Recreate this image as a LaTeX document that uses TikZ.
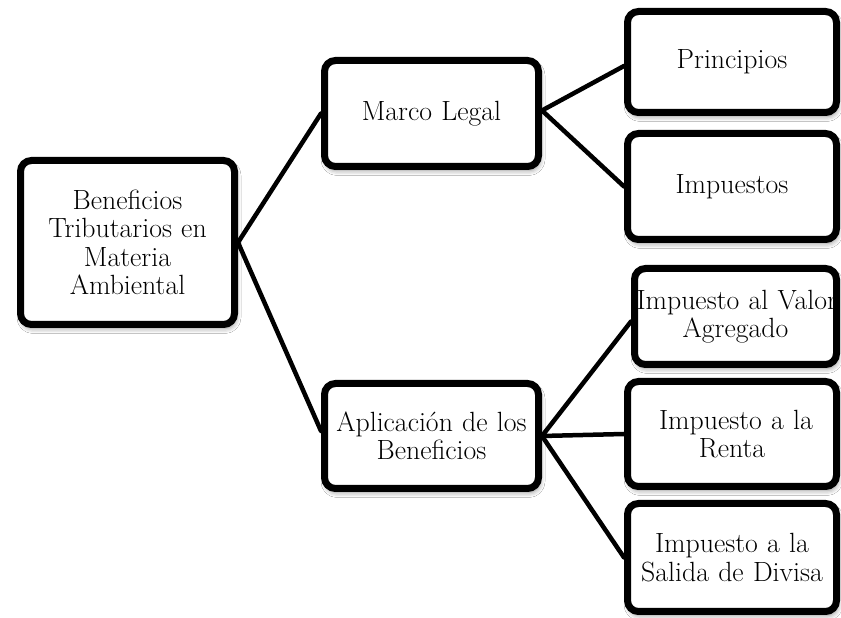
\documentclass[tikz,border=0pt]{standalone}
\usepackage{fontspec}
\usetikzlibrary{shadows.blur}
\newcommand{\boxfont}{\fontsize{27.8}{28.5}\selectfont\addfontfeatures{FakeBold=0.5}}
\tikzset{
  box/.style={draw=black, fill=white, line width=7pt, rounded corners=11pt,
    align=center, inner sep=0pt, font=\boxfont,
    blur shadow={shadow xshift=1.5pt, shadow yshift=-4pt, shadow blur radius=5pt, shadow opacity=45}},
  link/.style={line width=4.5pt, line cap=round}
}
\begin{document}
\begin{tikzpicture}[x=1pt,y=1pt]
\useasboundingbox (0,0) rectangle (841,618);
\fill[white] (0,0) rectangle (841,618);
\node[box, minimum width=214pt, minimum height=164pt, text width=200pt] (root) at (127.5,375.5) {Beneficios\\Tributarios en\\Materia\\Ambiental};
\node[box, minimum width=214pt, minimum height=106pt, text width=200pt] (marco) at (431.5,504.5) {Marco Legal};
\node[box, minimum width=214pt, minimum height=105pt, text width=200pt] (apl) at (431.5,182) {Aplicación de los\\Beneficios};
\node[box, minimum width=209pt, minimum height=101pt, text width=195pt] (princ) at (732,556) {Principios};
\node[box, minimum width=209pt, minimum height=106pt, text width=195pt] (imp) at (732,431.5) {Impuestos};
\node[box, minimum width=202pt, minimum height=96pt, text width=188pt] (iva) at (735.5,301.5) {\hspace*{-5pt}\mbox{\addfontfeatures{FakeStretch=0.97}Impuesto al Valor}\\Agregado};
\node[box, minimum width=209pt, minimum height=105pt, text width=195pt] (renta) at (732,184) {\hspace*{8pt}Impuesto a la\\Renta};
\node[box, minimum width=209pt, minimum height=108pt, text width=195pt] (divisa) at (732,60.5) {Impuesto a la\\Salida de Divisa};
\draw[link] (root.east) -- (marco.west);
\draw[link] (root.east) -- ([yshift=5pt]apl.west);
\draw[link] ([yshift=3pt]marco.east) -- ([yshift=-4pt]princ.west);
\draw[link] ([yshift=3pt]marco.east) -- (imp.west);
\draw[link] (apl.east) -- ([yshift=-5pt]iva.west);
\draw[link] (apl.east) -- (renta.west);
\draw[link] (apl.east) -- (divisa.west);
\end{tikzpicture}
\end{document}
